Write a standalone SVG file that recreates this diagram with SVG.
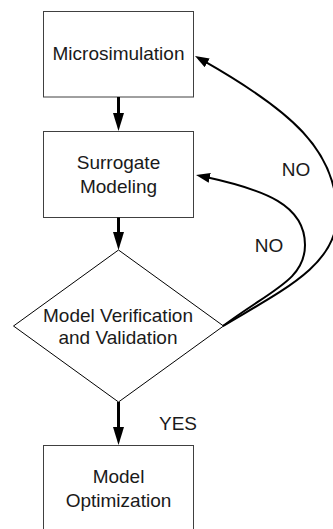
<svg xmlns="http://www.w3.org/2000/svg" width="333" height="529" viewBox="0 0 333 529">
  <style>
    .box { fill: #ffffff; stroke: #404040; stroke-width: 1; }
    .decision { fill: #ffffff; stroke: #000000; stroke-width: 1; }
    .label { font-family: "Liberation Sans", Arial, sans-serif; font-size: 19px; fill: #1a1a1a; text-anchor: middle; }
    .flow { fill: none; stroke: #000000; stroke-width: 3; }
    .loop { fill: none; stroke: #000000; stroke-width: 2; }
  </style>
  <defs>
    <marker id="headBig" markerUnits="userSpaceOnUse" markerWidth="18" markerHeight="11" refX="3" refY="5.5" orient="auto">
      <path d="M0,0 L18,5.5 L0,11 z" fill="#000000"/>
    </marker>
    <marker id="headSmall" markerUnits="userSpaceOnUse" markerWidth="14" markerHeight="10" refX="4" refY="5" orient="auto">
      <path d="M0,0 L14,5 L0,10 z" fill="#000000"/>
    </marker>
  </defs>

  <g id="microsimulation">
    <rect class="box" x="43.5" y="11.5" width="150" height="85.5"/>
    <text class="label" x="118.5" y="60">Microsimulation</text>
  </g>

  <g id="surrogate-modeling">
    <rect class="box" x="43.5" y="131.5" width="150" height="86"/>
    <text class="label" x="118.5" y="168.5">Surrogate</text>
    <text class="label" x="118.5" y="192.5">Modeling</text>
  </g>

  <g id="verification">
    <polygon class="decision" points="118.5,250 223.5,326 118.5,402 13.5,326"/>
    <text class="label" x="118" y="321.5">Model Verification</text>
    <text class="label" x="118" y="343.5">and Validation</text>
  </g>

  <g id="optimization">
    <rect class="box" x="43.5" y="445.5" width="150" height="100"/>
    <text class="label" x="118.5" y="483">Model</text>
    <text class="label" x="118.5" y="506.5">Optimization</text>
  </g>

  <g id="connectors">
    <line class="flow" x1="118.5" y1="97" x2="118.5" y2="116" marker-end="url(#headBig)"/>
    <line class="flow" x1="118.5" y1="217.5" x2="118.5" y2="235" marker-end="url(#headBig)"/>
    <line class="flow" x1="118.5" y1="402" x2="118.5" y2="430" marker-end="url(#headBig)"/>
    <path class="loop" d="M223,326 C271,290 305,280 305,245 C305,205 265,190 205.8,177.1" marker-end="url(#headSmall)"/>
    <path class="loop" d="M223,326 C283,290 337,265 337,215 C337,150 290,110 203.7,60.9" marker-end="url(#headSmall)"/>
    <text class="label" x="296" y="176">NO</text>
    <text class="label" x="269" y="252">NO</text>
    <text class="label" x="178" y="430">YES</text>
  </g>
</svg>
